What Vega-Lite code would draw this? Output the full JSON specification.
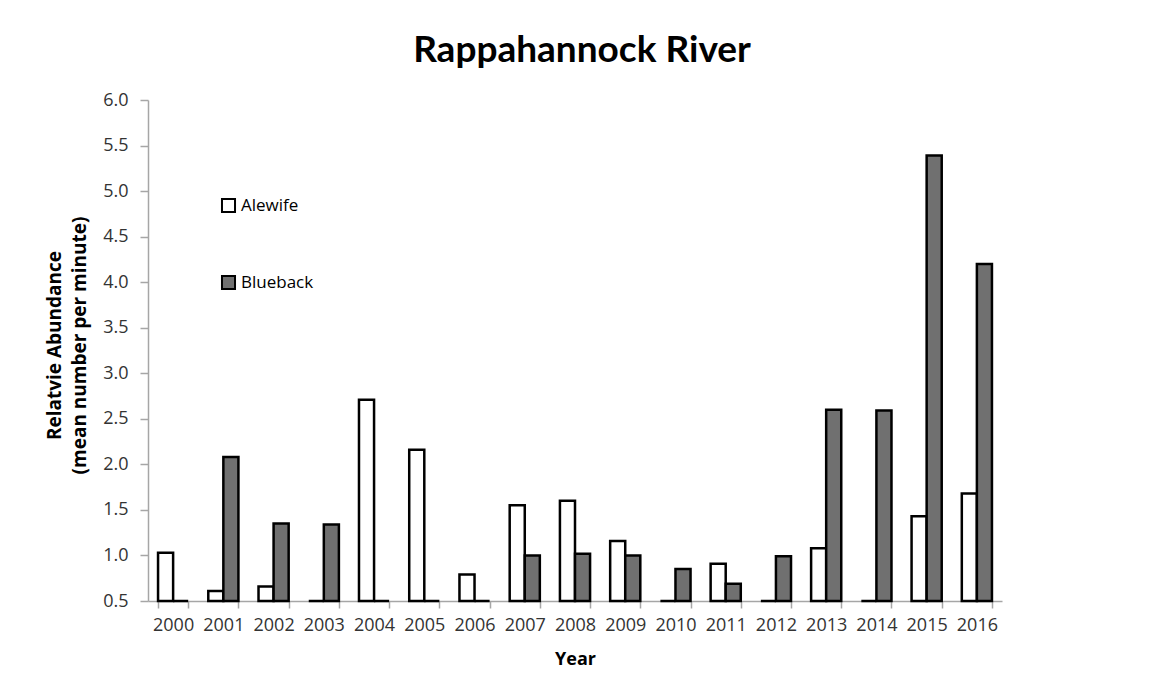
{
  "$schema": "https://vega.github.io/schema/vega-lite/v6.json",
  "width": 854,
  "height": 501,
  "autosize": {"type": "none"},
  "padding": {"left": 148, "top": 100, "right": 148, "bottom": 97},
  "background": "white",
  "title": {
    "text": "Rappahannock River",
    "font": "Lato",
    "fontSize": 37,
    "fontWeight": "bold",
    "color": "#000000",
    "anchor": "middle",
    "dx": 7,
    "offset": 21
  },
  "data": {
    "values": [
      {"Year": "2000", "Species": "Alewife", "Abundance": 1.03},
      {"Year": "2000", "Species": "Blueback", "Abundance": 0},
      {"Year": "2001", "Species": "Alewife", "Abundance": 0.61},
      {"Year": "2001", "Species": "Blueback", "Abundance": 2.08},
      {"Year": "2002", "Species": "Alewife", "Abundance": 0.66},
      {"Year": "2002", "Species": "Blueback", "Abundance": 1.35},
      {"Year": "2003", "Species": "Alewife", "Abundance": 0},
      {"Year": "2003", "Species": "Blueback", "Abundance": 1.34},
      {"Year": "2004", "Species": "Alewife", "Abundance": 2.71},
      {"Year": "2004", "Species": "Blueback", "Abundance": 0},
      {"Year": "2005", "Species": "Alewife", "Abundance": 2.16},
      {"Year": "2005", "Species": "Blueback", "Abundance": 0},
      {"Year": "2006", "Species": "Alewife", "Abundance": 0.79},
      {"Year": "2006", "Species": "Blueback", "Abundance": 0},
      {"Year": "2007", "Species": "Alewife", "Abundance": 1.55},
      {"Year": "2007", "Species": "Blueback", "Abundance": 1.0},
      {"Year": "2008", "Species": "Alewife", "Abundance": 1.6},
      {"Year": "2008", "Species": "Blueback", "Abundance": 1.02},
      {"Year": "2009", "Species": "Alewife", "Abundance": 1.16},
      {"Year": "2009", "Species": "Blueback", "Abundance": 1.0},
      {"Year": "2010", "Species": "Alewife", "Abundance": 0},
      {"Year": "2010", "Species": "Blueback", "Abundance": 0.85},
      {"Year": "2011", "Species": "Alewife", "Abundance": 0.91},
      {"Year": "2011", "Species": "Blueback", "Abundance": 0.69},
      {"Year": "2012", "Species": "Alewife", "Abundance": 0},
      {"Year": "2012", "Species": "Blueback", "Abundance": 0.99},
      {"Year": "2013", "Species": "Alewife", "Abundance": 1.08},
      {"Year": "2013", "Species": "Blueback", "Abundance": 2.6},
      {"Year": "2014", "Species": "Alewife", "Abundance": 0},
      {"Year": "2014", "Species": "Blueback", "Abundance": 2.59},
      {"Year": "2015", "Species": "Alewife", "Abundance": 1.43},
      {"Year": "2015", "Species": "Blueback", "Abundance": 5.39},
      {"Year": "2016", "Species": "Alewife", "Abundance": 1.68},
      {"Year": "2016", "Species": "Blueback", "Abundance": 4.2}
    ]
  },
  "mark": {"type": "bar", "stroke": "#000000", "strokeWidth": 2.5, "clip": false},
  "encoding": {
    "x": {
      "field": "Year",
      "type": "nominal",
      "scale": {"paddingInner": 0.4, "paddingOuter": 0.2},
      "axis": {
        "title": "Year",
        "titleFont": "Open Sans",
        "titleFontSize": 18,
        "titleFontWeight": "bold",
        "titleColor": "#000000",
        "titlePadding": 16,
        "labelAngle": 0,
        "labelFont": "Open Sans",
        "labelFontSize": 18,
        "labelColor": "#333333",
        "labelPadding": 8,
        "tickBand": "extent",
        "tickSize": 7,
        "tickColor": "#a6a6a6",
        "domainColor": "#a6a6a6",
        "domainWidth": 1.5,
        "tickWidth": 1.5,
        "grid": false
      }
    },
    "xOffset": {"field": "Species", "type": "nominal", "scale": {"paddingInner": 0, "paddingOuter": 0}},
    "y": {
      "field": "Abundance",
      "type": "quantitative",
      "scale": {"domain": [0.5, 6.0], "zero": false, "clamp": true, "nice": false},
      "axis": {
        "title": ["Relatvie Abundance", "(mean number per minute)"],
        "titleFont": "Open Sans",
        "titleFontSize": 19,
        "titleFontWeight": "bold",
        "titleColor": "#000000",
        "titleLineHeight": 25,
        "titleX": -84,
        "titleY": 245,
        "titleBaseline": "bottom",
        "values": [0.5, 1.0, 1.5, 2.0, 2.5, 3.0, 3.5, 4.0, 4.5, 5.0, 5.5, 6.0],
        "format": ".1f",
        "labelFont": "Open Sans",
        "labelFontSize": 18,
        "labelColor": "#333333",
        "labelPadding": 12,
        "tickSize": 8,
        "tickColor": "#a6a6a6",
        "domainColor": "#a6a6a6",
        "domainWidth": 1.5,
        "tickWidth": 1.5,
        "grid": false
      }
    },
    "fill": {
      "field": "Species",
      "type": "nominal",
      "scale": {"domain": ["Alewife", "Blueback"], "range": ["#ffffff", "#707070"]},
      "legend": {
        "title": null,
        "orient": "none",
        "legendX": 72,
        "legendY": 97,
        "symbolType": "square",
        "symbolSize": 170,
        "symbolStrokeColor": "#000000",
        "symbolStrokeWidth": 2,
        "labelFont": "Open Sans",
        "labelFontSize": 17,
        "labelColor": "#000000",
        "labelOffset": 4,
        "rowPadding": 54
      }
    }
  },
  "config": {
    "view": {"stroke": null}
  }
}
